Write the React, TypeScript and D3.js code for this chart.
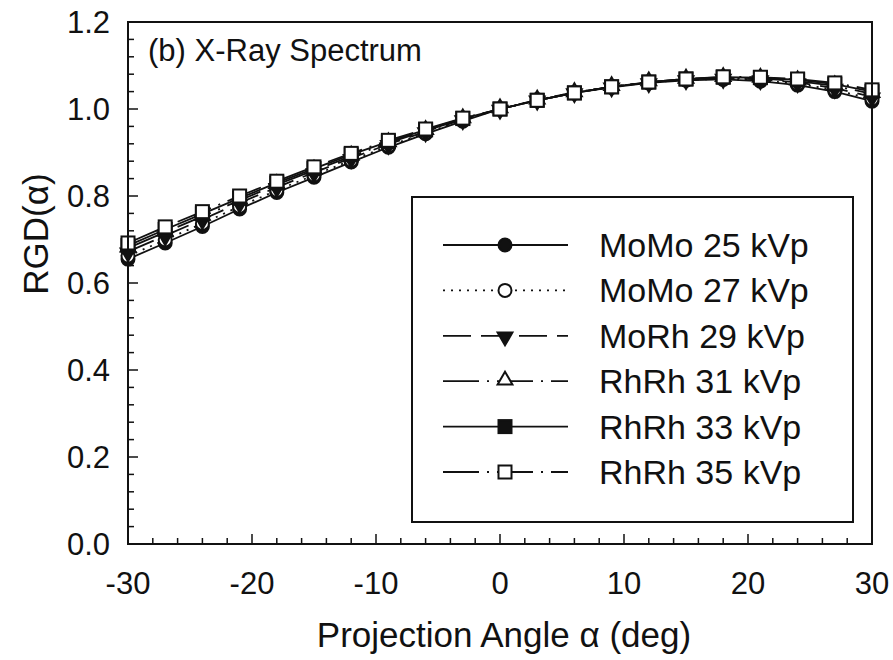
import React from "react";
import * as d3 from "d3";

const angles = [-30, -27, -24, -21, -18, -15, -12, -9, -6, -3, 0, 3, 6, 9, 12, 15, 18, 21, 24, 27, 30];

const momo25 = [0.655, 0.692, 0.730, 0.770, 0.808, 0.843, 0.878, 0.912, 0.943, 0.972, 1.000, 1.020, 1.037, 1.050, 1.060, 1.066, 1.068, 1.064, 1.055, 1.040, 1.018];
const momo27 = [0.662, 0.699, 0.737, 0.776, 0.813, 0.848, 0.882, 0.915, 0.945, 0.974, 1.000, 1.021, 1.038, 1.051, 1.061, 1.067, 1.069, 1.066, 1.058, 1.044, 1.023];
const morh29 = [0.672, 0.709, 0.746, 0.784, 0.820, 0.854, 0.887, 0.919, 0.948, 0.976, 1.000, 1.021, 1.038, 1.051, 1.061, 1.068, 1.071, 1.068, 1.061, 1.048, 1.028];
const rhrh31 = [0.680, 0.717, 0.753, 0.790, 0.826, 0.859, 0.891, 0.922, 0.950, 0.977, 1.000, 1.020, 1.037, 1.051, 1.062, 1.068, 1.072, 1.070, 1.064, 1.053, 1.035];
const rhrh33 = [0.686, 0.723, 0.759, 0.795, 0.830, 0.863, 0.895, 0.925, 0.952, 0.978, 1.000, 1.020, 1.037, 1.051, 1.062, 1.069, 1.073, 1.072, 1.067, 1.057, 1.040];
const rhrh35 = [0.692, 0.729, 0.764, 0.800, 0.834, 0.867, 0.898, 0.928, 0.954, 0.979, 1.000, 1.020, 1.037, 1.051, 1.062, 1.069, 1.074, 1.073, 1.069, 1.060, 1.044];

const seriesNames = ["MoMo 25 kVp", "MoMo 27 kVp", "MoRh 29 kVp", "RhRh 31 kVp", "RhRh 33 kVp", "RhRh 35 kVp"];
const seriesValues = [momo25, momo27, morh29, rhrh31, rhrh33, rhrh35];
const markerKinds = ["circleFilled", "circleOpen", "triDownFilled", "triUpOpen", "squareFilled", "squareOpen"];
const dashes = ["none", "2,6", "28,10", "36,8,2,8", "none", "36,8,2,8"];

const xTicks = [-30, -20, -10, 0, 10, 20, 30];
const yTicks = [0, 0.2, 0.4, 0.6, 0.8, 1.0, 1.2];

const FONT = "'Liberation Sans', Arial, Helvetica, sans-serif";
const INK = "#111";

function Marker({ kind, x, y }: { kind: string; x: number; y: number }) {
  const sw = 2;
  if (kind === "circleFilled") return <circle cx={x} cy={y} r={6.5} fill={INK} stroke={INK} strokeWidth={sw} />;
  if (kind === "circleOpen") return <circle cx={x} cy={y} r={6.5} fill="#fff" stroke={INK} strokeWidth={sw} />;
  if (kind === "squareFilled") return <rect x={x - 6.5} y={y - 6.5} width={13} height={13} fill={INK} stroke={INK} strokeWidth={sw} />;
  if (kind === "squareOpen") return <rect x={x - 6.5} y={y - 6.5} width={13} height={13} fill="#fff" stroke={INK} strokeWidth={sw} />;
  const sym = d3.symbol().type(d3.symbolTriangle).size(95)();
  if (kind === "triDownFilled")
    return <path d={sym || ""} transform={`translate(${x},${y + 1}) rotate(180)`} fill={INK} stroke={INK} strokeWidth={sw} />;
  return <path d={sym || ""} transform={`translate(${x},${y - 1})`} fill="#fff" stroke={INK} strokeWidth={sw} />;
}

export default function App() {
  const W = 893, H = 660;
  const left = 128, right = 872, top = 22, bottom = 544;
  const x = d3.scaleLinear().domain([-30, 30]).range([left, right]);
  const y = d3.scaleLinear().domain([0, 1.2]).range([bottom, top]);
  const line = d3.line<number>().x((_, i) => x(angles[i])).y((v) => y(v));

  const xMinor = d3.range(-30, 30.001, 2);
  const yMinor = d3.range(0, 1.2001, 0.04);

  const legX0 = 443, legX1 = 568, legM = 505, legText = 599;
  const legY0 = 245, legStep = 45.4;

  return (
    <svg width={W} height={H} style={{ position: "absolute", left: 0, top: 0, background: "#fff" }} fontFamily={FONT}>
      <rect x={0} y={0} width={W} height={H} fill="#fff" />
      {/* minor ticks */}
      {xMinor.map((t) => (
        <line key={"xm" + t} x1={x(t)} x2={x(t)} y1={bottom} y2={bottom - (xTicks.includes(Math.round(t)) ? 10 : 6)} stroke={INK} strokeWidth={1.5} />
      ))}
      {yMinor.map((t, i) => (
        <line key={"ym" + i} x1={left} x2={left + (i % 5 === 0 ? 10 : 6)} y1={y(t)} y2={y(t)} stroke={INK} strokeWidth={1.5} />
      ))}
      {/* series */}
      {seriesValues.map((vals, si) => (
        <path key={"l" + si} d={line(vals) || ""} fill="none" stroke={INK} strokeWidth={1.8} strokeDasharray={dashes[si]} />
      ))}
      {seriesValues.map((vals, si) => (
        <g key={"m" + si}>
          {vals.map((v, i) => (
            <Marker key={i} kind={markerKinds[si]} x={x(angles[i])} y={y(v)} />
          ))}
        </g>
      ))}
      {/* frame */}
      <rect x={left} y={top} width={right - left} height={bottom - top} fill="none" stroke={INK} strokeWidth={2} />
      {/* tick labels */}
      {xTicks.map((t) => (
        <text key={"xt" + t} x={x(t)} y={594} textAnchor="middle" fontSize={31} fill={INK}>{t}</text>
      ))}
      {yTicks.map((t) => (
        <text key={"yt" + t} x={110} y={y(t) + 11} textAnchor="end" fontSize={31} fill={INK}>{t.toFixed(1)}</text>
      ))}
      {/* axis titles */}
      <text x={504} y={647} textAnchor="middle" fontSize={35} fill={INK}>Projection Angle α (deg)</text>
      <text transform={`translate(48,234) rotate(-90)`} textAnchor="middle" fontSize={35} fill={INK}>RGD(α)</text>
      <text x={148} y={61} fontSize={31} fill={INK}>(b) X-Ray Spectrum</text>
      {/* legend */}
      <rect x={412} y={197} width={441} height={325} fill="#fff" stroke={INK} strokeWidth={2} />
      {seriesNames.map((name, si) => {
        const ly = legY0 + si * legStep;
        return (
          <g key={"lg" + si}>
            <line x1={legX0} x2={legX1} y1={ly} y2={ly} stroke={INK} strokeWidth={1.8} strokeDasharray={dashes[si]} />
            <Marker kind={markerKinds[si]} x={legM} y={ly} />
            <text x={legText} y={ly + 12} fontSize={34} fill={INK}>{name}</text>
          </g>
        );
      })}
    </svg>
  );
}
